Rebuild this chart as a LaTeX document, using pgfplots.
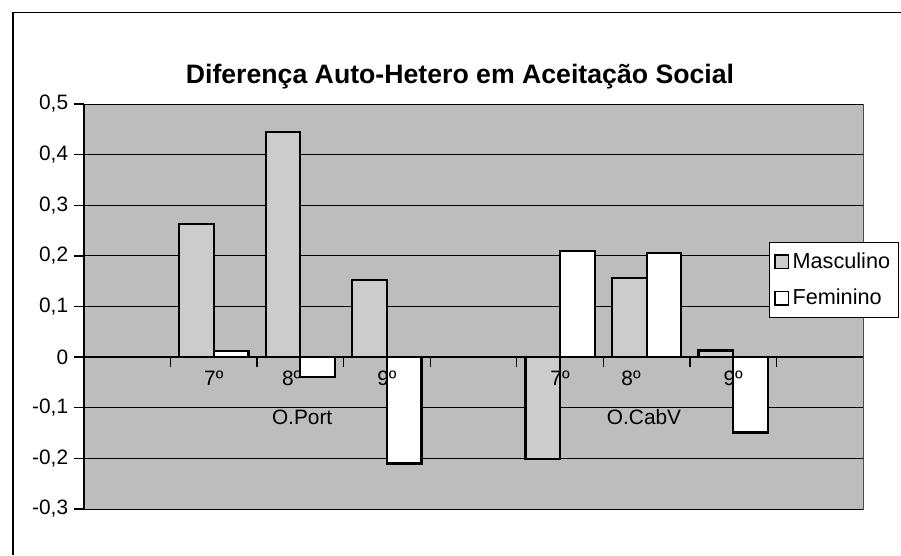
\documentclass[border=0pt]{standalone}
\usepackage{fontspec}
\setmainfont{Liberation Sans}
\usepackage{pgfplots}
\pgfplotsset{compat=1.18}
\tikzset{cat/.style={anchor=north, yshift=-5pt, font=\fontsize{12.5}{14}\selectfont}}

\begin{document}
\begin{tikzpicture}
\useasboundingbox (0,0) rectangle (540.6pt,333pt);
% outer chart frame (only left and top edges are visible)
\draw[line width=0.9pt] (7.8pt,0) -- (7.8pt,325.5pt) -- (540.6pt,325.5pt);
\node[font=\fontsize{16}{19}\selectfont\bfseries] at (276pt,287pt)
  {Diferença Auto-Hetero em Aceitação Social};
\begin{axis}[
    at={(50.4pt,27.6pt)}, anchor=south west,
    scale only axis, width=467.4pt, height=243pt,
    xmin=-0.5, xmax=8.5, ymin=-0.3, ymax=0.5,
    axis x line*=middle, axis y line*=left,
    hide obscured x ticks=false, hide obscured y ticks=false,
    axis line style={line width=1.2pt},
    axis background/.style={fill=black!26, draw=black!70, line width=0.6pt},
    ymajorgrids, grid style={black, line width=0.6pt},
    ytick={-0.3,-0.2,-0.1,0,0.1,0.2,0.3,0.4,0.5},
    yticklabel style={/pgf/number format/.cd, fixed, precision=1, use comma},
    /pgf/number format/assume math mode=true,
    xtick={0.5,1.5,2.5,3.5,4.5,5.5,6.5,7.5},
    xticklabels={,,,,,,,},
    xtick align=center, ytick align=outside,
    major tick length=6pt,
    tick style={black, line width=0.8pt},
    tick label style={font=\fontsize{12.5}{14}\selectfont},
    ybar, bar width=0.4,
    legend cell align=left,
    legend style={at={(axis description cs:0.879,0.659)}, anchor=north west,
      draw=black, line width=0.6pt, fill=white,
      font=\fontsize{13}{15}\selectfont, row sep=7pt,
      inner xsep=3pt, inner ysep=4pt},
    sq legend/.style={legend image code/.code={
      \draw[##1, line width=1pt] (0pt,-4pt) rectangle (8pt,4pt);}},
]
\addplot[fill=black!20, draw=black, line width=1.3pt, bar shift=-0.2, sq legend]
  coordinates {(1,0.263) (2,0.444) (3,0.153) (5,-0.202) (6,0.156) (7,0.013)};
\addplot[fill=white, draw=black, line width=1.3pt, bar shift=0.2, sq legend]
  coordinates {(1,0.012) (2,-0.039) (3,-0.210) (5,0.210) (6,0.205) (7,-0.149)};
\legend{Masculino, Feminino}
% category labels, written over the bars as in the reference
\node[cat] at (axis cs:1,0) {7º};
\node[cat] at (axis cs:1.9,0) {8º};
\node[cat] at (axis cs:3,0) {9º};
\node[cat] at (axis cs:5,0) {7º};
\node[cat] at (axis cs:5.82,0) {8º};
\node[cat] at (axis cs:7,0) {9º};
\node[font=\fontsize{12.5}{14}\selectfont] at (axis cs:2.02,-0.119) {O.Port};
\node[font=\fontsize{12.5}{14}\selectfont] at (axis cs:5.97,-0.119) {O.CabV};
\end{axis}
\end{tikzpicture}
\end{document}
